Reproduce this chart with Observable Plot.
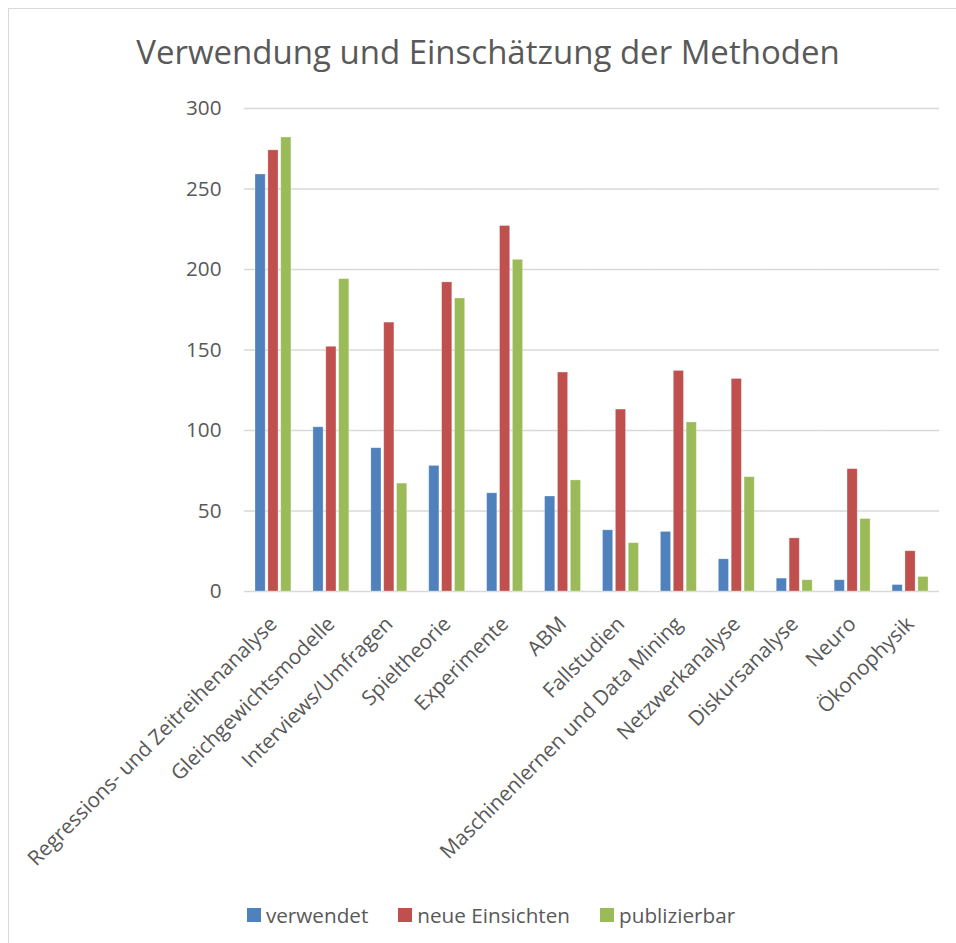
<!DOCTYPE html>
<html><head><meta charset="utf-8">
<script src="https://cdn.jsdelivr.net/npm/d3@7"></script>
<script src="https://cdn.jsdelivr.net/npm/@observablehq/plot@0.6"></script>
<style>
html,body{margin:0;padding:0;background:#fff;overflow:hidden;width:956px;height:943px}
#frame{position:absolute;left:8px;top:8px;width:1200px;height:1200px;border-left:1px solid #d9d9d9;border-top:1px solid #d9d9d9;box-sizing:border-box}
#wrap{position:absolute;left:0;top:0;width:956px;height:943px;font-family:"Open Sans",sans-serif;color:#595959}
#title{position:absolute;left:0;top:30px;width:976px;text-align:center;font-size:33px;line-height:44px;white-space:nowrap}
#chart{position:absolute;left:0;top:95px}
#legend{position:absolute;left:0;top:901px;width:982px;display:flex;justify-content:center;align-items:center;font-size:20.7px;line-height:28px}
.item{display:flex;align-items:center;margin:0 15px}
.sw{width:14px;height:14px;margin-right:5px}
</style></head>
<body>
<div id="frame"></div>
<div id="wrap">
  <div id="title">Verwendung und Einschätzung der Methoden</div>
  <div id="chart"></div>
  <div id="legend"></div>
</div>
<script>
const categories = ["Regressions- und Zeitreihenanalyse","Gleichgewichtsmodelle","Interviews/Umfragen","Spieltheorie","Experimente","ABM","Fallstudien","Maschinenlernen und Data Mining","Netzwerkanalyse","Diskursanalyse","Neuro","Ökonophysik"];
const series = ["verwendet","neue Einsichten","publizierbar"];
const verwendet = [259,102,89,78,61,59,38,37,20,8,7,4];
const neueEinsichten = [274,152,167,192,227,136,113,137,132,33,76,25];
const publizierbar = [282,194,67,182,206,69,30,105,71,7,45,9];
const yTicks = [0,50,100,150,200,250,300];
const colors = ["#4f81bd","#c0504d","#9bbb59"];

const values = [verwendet, neueEinsichten, publizierbar];
const data = [];
categories.forEach((c, i) => series.forEach((s, j) => data.push({category: c, series: s, value: values[j][i]})));

const chart = Plot.plot({
  width: 956, height: 785,
  marginTop: 13, marginBottom: 289, marginLeft: 244, marginRight: 17,
  style: {fontFamily: "'Open Sans', sans-serif", fontSize: "20.7px", color: "#595959", background: "transparent", overflow: "visible"},
  fx: {domain: categories, paddingInner: 0.38, paddingOuter: 0.19, round: false, label: null, tickRotate: -45, tickSize: 0, tickPadding: 29},
  x: {domain: series, paddingInner: 0.21, paddingOuter: 0, round: false, axis: null},
  y: {domain: [0, 300], ticks: yTicks, tickSize: 0, tickPadding: 34, label: null},
  color: {domain: series, range: colors},
  marks: [
    Plot.ruleY(yTicks, {stroke: "#d9d9d9", strokeWidth: 1.3, strokeOpacity: 1, insetLeft: -11.1, insetRight: -11.1}),
    Plot.barY(data, {fx: "category", x: "series", y: "value", fill: "series", stroke: "#ffffff", strokeOpacity: 0.35, strokeWidth: 0.8})
  ]
});
document.getElementById("chart").appendChild(chart);

const legend = document.getElementById("legend");
series.forEach((s, i) => {
  const it = document.createElement("div"); it.className = "item";
  const sw = document.createElement("div"); sw.className = "sw"; sw.style.background = colors[i];
  const t = document.createElement("span"); t.textContent = s;
  it.appendChild(sw); it.appendChild(t); legend.appendChild(it);
});
</script>
</body></html>
